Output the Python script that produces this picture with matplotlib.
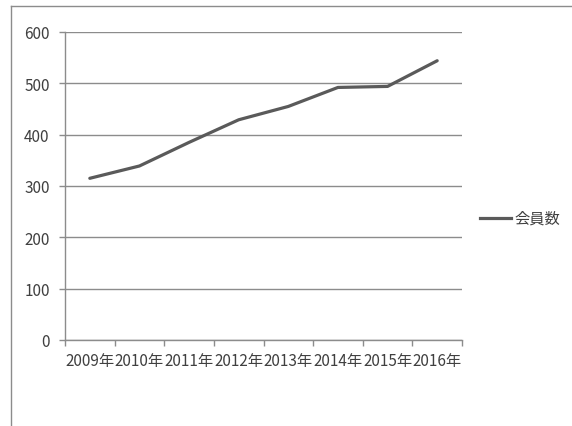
import numpy as np
import matplotlib.pyplot as plt
from matplotlib.lines import Line2D

plt.rcParams['font.family'] = ['Noto Sans CJK JP', 'DejaVu Sans']

# データ
years = ['2009年', '2010年', '2011年', '2012年', '2013年', '2014年', '2015年', '2016年']
members = [315, 339, 385, 429, 455, 492, 494, 544]
series_name = '会員数'
y_ticks = [0, 100, 200, 300, 400, 500, 600]

text_color = '#404040'
grid_color = '#8c8c8c'
line_color = '#5a5a5a'

fig = plt.figure(figsize=(5.72, 4.27), dpi=100)
W, H = 572, 427
ax = fig.add_axes([65 / W, 1 - 341 / H, (462 - 65) / W, (341 - 33) / H])

x = np.arange(len(years)) + 0.5
ax.plot(x, members, color=line_color, linewidth=2.3, solid_capstyle='round')

ax.set_xlim(0, len(years))
ax.set_ylim(0, 600)
ax.set_yticks(y_ticks)
ax.set_xticks(np.arange(len(years) + 1))
ax.set_xticklabels([])
ax.set_xticks(x, minor=True)
ax.set_xticklabels(years, minor=True)

ax.grid(axis='y', color=grid_color, linewidth=1)
ax.set_axisbelow(True)
for side in ['top', 'right']:
    ax.spines[side].set_visible(False)
for side in ['left', 'bottom']:
    ax.spines[side].set_color(grid_color)
    ax.spines[side].set_linewidth(1)

ax.tick_params(axis='both', which='major', color=grid_color, length=4, width=1,
               labelcolor=text_color, labelsize=11)
ax.tick_params(axis='y', pad=7)
ax.tick_params(axis='x', which='minor', length=0, pad=9, labelcolor=text_color, labelsize=11)

# 凡例
fig.add_artist(Line2D([480 / W, 511 / W], [1 - 219 / H, 1 - 219 / H], color=line_color,
                      linewidth=2.3))
fig.text(514 / W, 1 - 219 / H, series_name, color=text_color, fontsize=11, va='center', ha='left')

# 枠線
fig.add_artist(Line2D([11 / W, 11 / W], [0, 1 - 7 / H], color='#8c8c8c', linewidth=1))
fig.add_artist(Line2D([11 / W, 1], [1 - 7 / H, 1 - 7 / H], color='#8c8c8c', linewidth=1))

fig.savefig('out.png', dpi=100)
